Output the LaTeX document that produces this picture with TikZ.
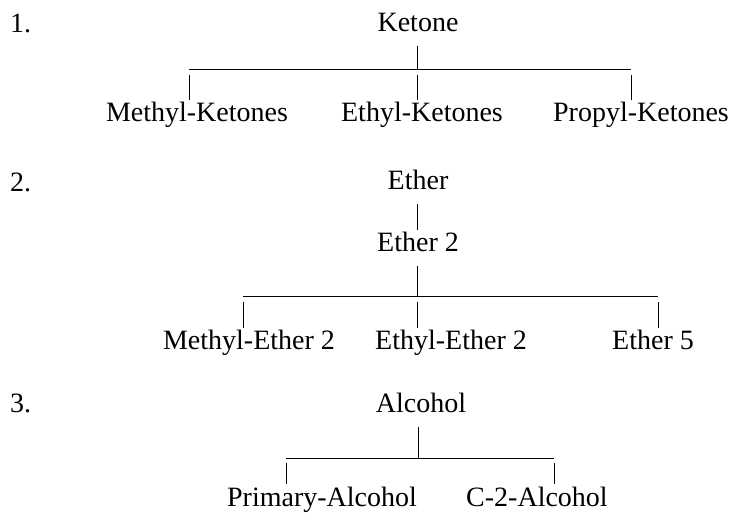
\documentclass[tikz,border=0pt]{standalone}
\usepackage{fontspec}
\setmainfont{Liberation Serif}
\usepackage{tikz}
\usetikzlibrary{positioning}

\begin{document}
\begin{tikzpicture}[
    x=1pt, y=-1pt,
    every node/.style={font=\fontsize{28}{32}\selectfont},
    term/.style={inner sep=0pt, anchor=base, text height=22pt, text depth=14pt},
    num/.style={inner sep=0pt, anchor=base west},
    ln/.style={line width=1pt}
  ]
  \useasboundingbox (0,0) rectangle (729,513);
  % 1. ketone
  \node[num] (n1) at (10,33) {1.};
  \node[term] (ketone) at (418,32) {Ketone};
  \coordinate (k-mid) at (417,70);
  \coordinate (k-l) at (189,70);
  \coordinate (k-r) at (631,70);
  \node[term] (methylk) at (197,122) {Methyl-Ketones};
  \node[term] (ethylk) at (422,122) {Ethyl-Ketones};
  \node[term] (propylk) at (641,122) {Propyl-Ketones};
  \draw[ln] (k-mid |- ketone.south) -- (k-mid);
  \draw[ln] (k-l) -- (k-r);
  \foreach \a/\b in {k-l/methylk, k-mid/ethylk, k-r/propylk}
    \draw[ln] ([yshift=-5pt]\a) -- (\a |- \b.north);
  % 2. ether
  \node[num] (n2) at (10,192) {2.};
  \node[term] (ether) at (418,190) {Ether};
  \node[term] (ether2) at (418,252) {Ether 2};
  \coordinate (e-mid) at (417,297);
  \coordinate (e-l) at (243,297);
  \coordinate (e-r) at (658,297);
  \node[term] (methyle) at (249,350) {Methyl-Ether 2};
  \node[term] (ethyle) at (451,350) {Ethyl-Ether 2};
  \node[term] (ether5) at (653,350) {Ether 5};
  \draw[ln] (e-mid |- ether.south) -- (e-mid |- ether2.north);
  \draw[ln] (e-mid |- ether2.south) -- (e-mid);
  \draw[ln] (e-l) -- (e-r);
  \foreach \a/\b in {e-l/methyle, e-mid/ethyle, e-r/ether5}
    \draw[ln] ([yshift=-5pt]\a) -- (\a |- \b.north);
  % 3. alcohol
  \node[num] (n3) at (10,413) {3.};
  \node[term] (alcohol) at (421,413) {Alcohol};
  \coordinate (a-mid) at (418,458);
  \coordinate (a-l) at (286,458);
  \coordinate (a-r) at (554,458);
  \node[term] (primary) at (322,506) {Primary-Alcohol};
  \node[term] (c2alc) at (537,506) {C-2-Alcohol};
  \draw[ln] (a-mid |- alcohol.south) -- (a-mid);
  \draw[ln] (a-l) -- (a-r);
  \foreach \a/\b in {a-l/primary, a-r/c2alc}
    \draw[ln] ([yshift=-5pt]\a) -- (\a |- \b.north);
\end{tikzpicture}
\end{document}
